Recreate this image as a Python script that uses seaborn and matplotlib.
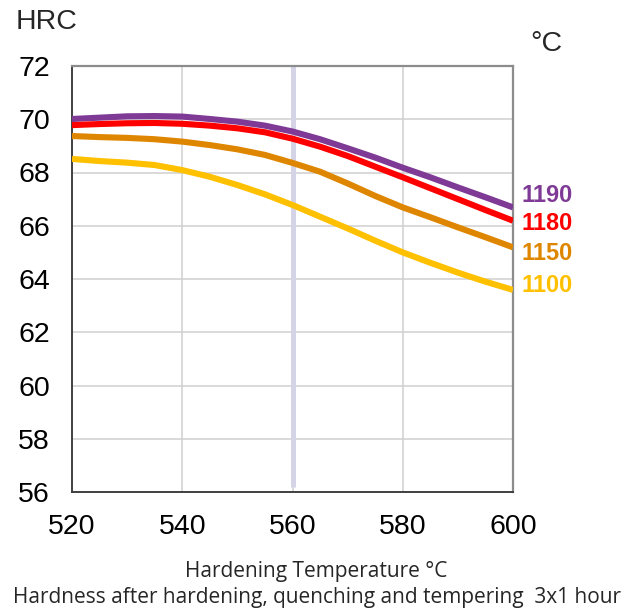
import matplotlib
matplotlib.use("Agg")
import matplotlib.pyplot as plt
import seaborn as sns
import pandas as pd

temps = [520, 525, 530, 535, 540, 545, 550, 555, 560,
         565, 570, 575, 580, 585, 590, 595, 600]
hrc_1190 = [70.01, 70.06, 70.11, 70.12, 70.10, 70.01, 69.91, 69.76, 69.54,
            69.25, 68.91, 68.56, 68.18, 67.82, 67.44, 67.07, 66.69]
hrc_1180 = [69.78, 69.82, 69.85, 69.86, 69.83, 69.76, 69.66, 69.51, 69.27,
            68.97, 68.62, 68.22, 67.82, 67.41, 67.00, 66.59, 66.19]
hrc_1150 = [69.37, 69.33, 69.30, 69.25, 69.16, 69.03, 68.87, 68.66, 68.36,
            68.03, 67.59, 67.12, 66.69, 66.32, 65.94, 65.57, 65.19]
hrc_1100 = [68.51, 68.43, 68.37, 68.28, 68.09, 67.84, 67.53, 67.18, 66.78,
            66.34, 65.90, 65.44, 65.00, 64.61, 64.24, 63.90, 63.59]
series_names = ["1190", "1180", "1150", "1100"]
colors = ["#7F3A96", "#FF0000", "#DF8600", "#FFC000"]
label_y = [67.12, 66.07, 64.94, 63.74]

rows = []
for name, vals in zip(series_names, [hrc_1190, hrc_1180, hrc_1150, hrc_1100]):
    for t, v in zip(temps, vals):
        rows.append({"temp": t, "hrc": v, "series": name})
df = pd.DataFrame(rows)

sns.set_theme(style="white")
plt.rcParams['font.family'] = ['Liberation Sans', 'DejaVu Sans']

fig = plt.figure(figsize=(6.38, 6.12), dpi=100)
ax = fig.add_axes([72/638, 1-492/612, (513-72)/638, (492-66)/612])

ax.grid(True, color="#D0D0D0", linewidth=1.1)
ax.set_axisbelow(True)
ax.axvline(560, ymin=0.012, ymax=1.0, color="#D5D3E6", linewidth=3.6, zorder=1.5)

sns.lineplot(data=df, x="temp", y="hrc", hue="series", hue_order=series_names,
             palette=colors, linewidth=4.4, ax=ax, legend=False, sort=False,
             zorder=3)
for line in ax.lines:
    line.set_solid_capstyle("butt")
    line.set_solid_joinstyle("round")

ax.set_xlim(520, 600)
ax.set_ylim(56, 72)
ax.set_xticks([520, 540, 560, 580, 600])
ax.set_yticks(list(range(56, 73, 2)))
ax.tick_params(axis="both", labelsize=20.5, colors="#222222", length=7, width=1.2,
               direction="out")
ax.tick_params(axis="x", pad=9)
ax.tick_params(axis="y", pad=9)
for lab in ax.get_xticklabels() + ax.get_yticklabels():
    lab.set_color("black")

for side in ["left", "bottom"]:
    ax.spines[side].set_color("#404040")
    ax.spines[side].set_linewidth(1.4)
for side in ["top", "right"]:
    ax.spines[side].set_color("#8C8C8C")
    ax.spines[side].set_linewidth(1.6)
    ax.spines[side].set_visible(True)

for name, c, yv in zip(series_names, colors, label_y):
    ax.text(601.6, yv, name, color=c, fontsize=17, fontweight="bold",
            ha="left", va="center", clip_on=False)

ax.set_xlabel("")
ax.set_ylabel("")
fig.text(16/638, 1-22/612, "HRC", fontsize=20.5, ha="left", va="center")
fig.text(530/638, 1-44/612, "°C", fontsize=20.5, ha="left", va="center")
fig.text(316/638, 1-572/612, "Hardening Temperature °C", fontsize=15,
         ha="center", va="center", family=["Open Sans", "DejaVu Sans"])
fig.text(317/638, 1-597/612, "Hardness after hardening, quenching and tempering  3x1 hour",
         fontsize=15, ha="center", va="center", family=["Open Sans", "DejaVu Sans"])

fig.savefig("out.png", dpi=100)
